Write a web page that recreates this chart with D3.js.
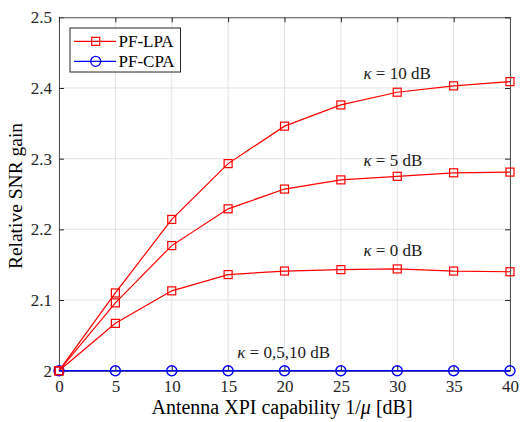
<!DOCTYPE html>
<html><head><meta charset="utf-8">
<script src="https://cdn.jsdelivr.net/npm/d3@7"></script>
<style>body{margin:0;background:#fff}svg{display:block}</style>
</head><body><svg id="c" width="521" height="422"></svg>
<script>
const xValues = [0, 5, 10, 15, 20, 25, 30, 35, 40];
const lpaK10 = [2.0, 2.110, 2.214, 2.293, 2.346, 2.376, 2.394, 2.403, 2.409];
const lpaK5  = [2.0, 2.096, 2.177, 2.229, 2.257, 2.270, 2.275, 2.280, 2.281];
const lpaK0  = [2.0, 2.067, 2.113, 2.136, 2.141, 2.143, 2.144, 2.141, 2.140];
const cpa    = [2.0, 2.0, 2.0, 2.0, 2.0, 2.0, 2.0, 2.0, 2.0];
const xTicks = [0, 5, 10, 15, 20, 25, 30, 35, 40];
const yTicks = [2, 2.1, 2.2, 2.3, 2.4, 2.5];
const yTickLabels = ["2", "2.1", "2.2", "2.3", "2.4", "2.5"];
const legendNames = ["PF-LPA", "PF-CPA"];
const annotations = [
  {x: 27, y: 2.413, k: "10 dB"},
  {x: 27, y: 2.290, k: "5 dB"},
  {x: 27, y: 2.162, k: "0 dB"},
  {x: 15.8, y: 2.018, k: "0,5,10 dB"}
];

const FONT = '"Liberation Serif"';
const svg = d3.select("#c");
const L = 59, R = 510, T = 17.3, B = 370.7;
const x = d3.scaleLinear().domain([0, 40]).range([L, R]);
const y = d3.scaleLinear().domain([2, 2.5]).range([B, T]);

// grid
const g = svg.append("g");
g.selectAll(".gx").data(xTicks).enter().append("line")
  .attr("x1", d => x(d)).attr("x2", d => x(d)).attr("y1", T).attr("y2", B)
  .attr("stroke", "#e3e3e3").attr("stroke-width", 1);
g.selectAll(".gy").data(yTicks).enter().append("line")
  .attr("y1", d => y(d)).attr("y2", d => y(d)).attr("x1", L).attr("x2", R)
  .attr("stroke", "#e3e3e3").attr("stroke-width", 1);

// axes with inward ticks
const axB = d3.axisBottom(x).tickValues(xTicks).tickSizeInner(-5).tickSizeOuter(0).tickPadding(9);
const axL = d3.axisLeft(y).tickValues(yTicks).tickFormat((d, i) => yTickLabels[i]).tickSizeInner(-5).tickSizeOuter(0).tickPadding(7);
const axT = d3.axisTop(x).tickValues(xTicks).tickSizeInner(-5).tickSizeOuter(0).tickFormat("");
const axR = d3.axisRight(y).tickValues(yTicks).tickSizeInner(-5).tickSizeOuter(0).tickFormat("");
function style(sel) {
  sel.attr("font-family", null);
  sel.selectAll("path").attr("stroke", "#262626").attr("stroke-width", 1);
  sel.selectAll("line").attr("stroke", "#262626").attr("stroke-width", 1);
  sel.selectAll("text").attr("fill", "#262626").style("font-size", "17px").style("font-family", FONT);
}
svg.append("g").attr("transform", `translate(0,${B})`).call(axB).call(style);
svg.append("g").attr("transform", `translate(${L},0)`).call(axL).call(style);
svg.append("g").attr("transform", `translate(0,${T})`).call(axT).call(style);
svg.append("g").attr("transform", `translate(${R},0)`).call(axR).call(style);
svg.selectAll(".domain").attr("stroke", "#555");

// series
const line = d3.line().x((d, i) => x(xValues[i])).y(d => y(d));
const plot = svg.append("g");
[lpaK0, lpaK5, lpaK10].forEach(s => {
  plot.append("path").datum(s).attr("d", line).attr("fill", "none").attr("stroke", "#ff0000").attr("stroke-width", 1.2);
  plot.selectAll(null).data(s).enter().append("rect")
    .attr("x", (d, i) => x(xValues[i]) - 4).attr("y", d => y(d) - 4)
    .attr("width", 8).attr("height", 8).attr("fill", "none").attr("stroke", "#ff0000").attr("stroke-width", 1.2);
});
plot.append("path").datum(cpa).attr("d", line).attr("fill", "none").attr("stroke", "#0000ff").attr("stroke-width", 1.6);
plot.selectAll(null).data(cpa).enter().append("circle")
  .attr("cx", (d, i) => x(xValues[i])).attr("cy", d => y(d)).attr("r", 5)
  .attr("fill", "none").attr("stroke", "#0000ff").attr("stroke-width", 1.4);
plot.append("rect").attr("x", x(0) - 4).attr("y", y(lpaK0[0]) - 4).attr("width", 8).attr("height", 8)
  .attr("fill", "none").attr("stroke", "#ff0000").attr("stroke-width", 1.4);

// annotations
annotations.forEach(a => {
  const t = svg.append("text").attr("x", x(a.x)).attr("y", y(a.y)).style("font-size", "17px").style("font-family", FONT).attr("fill", "#1a1a1a");
  t.append("tspan").style("font-style", "italic").text("κ");
  t.append("tspan").text(" = " + a.k);
});

// legend
const lg = svg.append("g");
lg.append("rect").attr("x", 70).attr("y", 28).attr("width", 110.5).attr("height", 44)
  .attr("fill", "#fff").attr("stroke", "#262626").attr("stroke-width", 1);
legendNames.forEach((n, i) => {
  const yy = 41.3 + i * 20;
  const col = i === 0 ? "#ff0000" : "#0000ff";
  lg.append("line").attr("x1", 74).attr("x2", 116).attr("y1", yy).attr("y2", yy).attr("stroke", col).attr("stroke-width", 1.3);
  if (i === 0) lg.append("rect").attr("x", 91.7).attr("y", yy - 4).attr("width", 8).attr("height", 8).attr("fill", "none").attr("stroke", col).attr("stroke-width", 1.2);
  else lg.append("circle").attr("cx", 95.7).attr("cy", yy).attr("r", 5).attr("fill", "none").attr("stroke", col).attr("stroke-width", 1.3);
  lg.append("text").attr("x", 118.5).attr("y", yy + 5.5).style("font-size", "17px").style("font-family", FONT).attr("fill", "#000").text(n);
});

// axis titles
const xl = svg.append("text").attr("x", 282).attr("y", 414).attr("text-anchor", "middle").style("font-size", "20px").style("font-family", FONT).attr("fill", "#000");
xl.append("tspan").text("Antenna XPI capability 1/");
xl.append("tspan").style("font-style", "italic").text("μ");
xl.append("tspan").text(" [dB]");
svg.append("text").attr("transform", "translate(22,196) rotate(-90)").attr("text-anchor", "middle")
  .style("font-size", "19.5px").style("font-family", FONT).attr("fill", "#000").text("Relative SNR gain");
</script></body></html>
